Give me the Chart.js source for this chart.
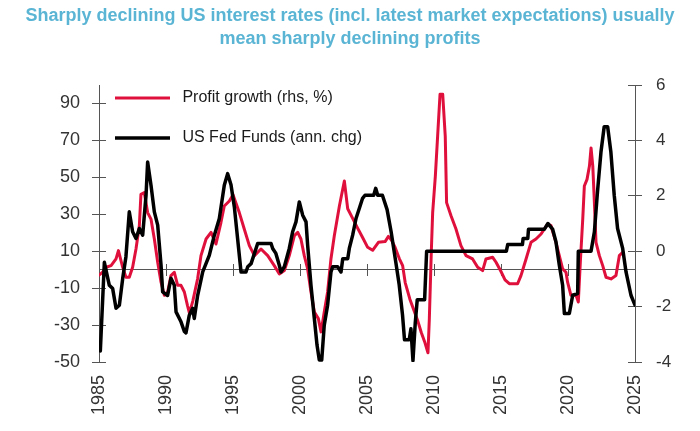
<!DOCTYPE html>
<html>
<head>
<meta charset="utf-8">
<script src="https://cdn.jsdelivr.net/npm/chart.js@4.4.1/dist/chart.umd.min.js"></script>
<style>
	html, body { margin: 0; padding: 0; background: #fff; }
</style>
</head>
<body>
<canvas id="myChart" width="700" height="431"></canvas>
<script>

// profit growth, % (drawn on the left scale)
var profitYears = [1985.0, 1985.27, 1985.52, 1985.9, 1986.27, 1986.45, 1986.77, 1987.01, 1987.26, 1987.51, 1987.76, 1988.01, 1988.13, 1988.38, 1988.63, 1988.88,
	1989.13, 1989.38, 1989.63, 1989.88, 1990.12, 1990.37, 1990.62, 1990.87, 1991.12, 1991.37, 1991.6, 1991.75, 1992.0, 1992.36, 1992.61, 1992.99,
	1993.36, 1993.73, 1994.1, 1994.35, 1994.73, 1995.0, 1995.47, 1995.84, 1996.22, 1996.6, 1997.09, 1997.59, 1998.08, 1998.46, 1998.83, 1999.2,
	1999.58, 1999.83, 2000.07, 2000.32, 2000.57, 2000.82, 2001.07, 2001.37, 2001.57, 2001.81, 2002.06, 2002.31, 2002.56, 2002.94, 2003.31, 2003.56,
	2003.93, 2004.3, 2004.7, 2005.05, 2005.42, 2005.85, 2006.35, 2006.6, 2006.85, 2007.1, 2007.41, 2007.66, 2007.85, 2008.2, 2008.5, 2008.8,
	2009.05, 2009.3, 2009.55, 2009.65, 2009.8, 2009.9, 2010.1, 2010.27, 2010.45, 2010.65, 2010.84, 2010.94, 2011.27, 2011.64, 2012.01, 2012.39,
	2012.88, 2013.26, 2013.63, 2013.88, 2014.38, 2014.63, 2015.0, 2015.3, 2015.62, 2016.24, 2016.49, 2016.87, 2017.24, 2017.61, 2017.99, 2018.48,
	2018.73, 2019.1, 2019.35, 2019.6, 2019.85, 2019.97, 2020.22, 2020.6, 2020.77, 2020.92, 2021.1, 2021.22, 2021.42, 2021.6, 2021.72, 2021.85,
	2021.97, 2022.09, 2022.34, 2022.59, 2022.84, 2023.21, 2023.58, 2023.83, 2024.08];
var profitGrowth = [-3, -1.4, 1.3, 2.2, 5.8, 10.3, 1.3, -4.1, -4.1, 1.3, 11.2, 23.8, 40.8, 41.7, 30.9, 27.4,
	16.6, 4.0, -6.8, -13.9, -12.2, -3.2, -1.4, -8.5, -8.5, -12.1, -19.3, -23.5, -17, -4.9, 7.6, 16.6,
	20.2, 13.9, 25.5, 34.5, 37.2, 40.5, 30.9, 22, 13, 7.6, 11.2, 7.6, 2.2, -2.3, -0.5, 7.6,
	18.4, 20.2, 16.6, 7.6, 0.4, -12.1, -22.9, -26.5, -33.7, -22.9, -12.1, 5.8, 18.4, 34.5, 48, 33,
	27.8, 22.5, 17, 12.1, 10.5, 14.8, 15.2, 18, 15.7, 12, 6, 2.2, -7, -16, -22, -28,
	-34, -39, -45, -27, 10, 30.9, 50.7, 72.2, 95, 95, 72.2, 36.3, 29.2, 22, 13, 7.6,
	5.8, 1.3, -0.5, 5.8, 6.7, 4, -1, -5.5, -7.6, -7.6, -3.2, 5.8, 14.8, 16.6, 19.3, 24.7,
	23.8, 14.8, 7.6, 0.4, -1.4, -6.8, -13.9, -13.9, -17.5, 4, 27.4, 45.3, 48.9, 56.1, 65.9, 56.1,
	36.3, 14.8, 7.6, 2.2, -4.1, -5, -3.2, 7.6, 9.4];

// US fed funds, annual change in pp (drawn on the right scale)
var fedYears = [1985.1, 1985.4, 1985.77, 1986.02, 1986.27, 1986.52, 1986.77, 1987.01, 1987.26, 1987.51, 1987.76, 1988.01, 1988.26, 1988.51, 1988.63, 1988.88,
	1989.13, 1989.38, 1989.63, 1989.75, 1990.12, 1990.37, 1990.62, 1990.75, 1991.12, 1991.37, 1991.49, 1991.74, 1991.99, 1992.11, 1992.36, 1992.74,
	1993.23, 1993.61, 1993.98, 1994.35, 1994.6, 1994.85, 1995.1, 1995.6, 1995.97, 1996.1, 1996.35, 1996.6, 1996.84, 1997.84, 1997.96, 1998.2,
	1998.45, 1998.58, 1998.83, 1999.2, 1999.45, 1999.7, 1999.95, 2000.2, 2000.45, 2000.57, 2000.82, 2001.07, 2001.27, 2001.44, 2001.62, 2001.81,
	2002.06, 2002.31, 2002.44, 2002.81, 2003.06, 2003.19, 2003.56, 2003.68, 2003.93, 2004.18, 2004.43, 2004.67, 2004.85, 2005.5, 2005.65, 2005.8,
	2006.15, 2006.5, 2006.8, 2007.15, 2007.4, 2007.65, 2007.8, 2008.15, 2008.28, 2008.43, 2008.6, 2008.75, 2009.3, 2009.45, 2015.4, 2015.5,
	2016.6, 2016.65, 2017.0, 2017.05, 2018.23, 2018.5, 2018.85, 2019.1, 2019.35, 2019.6, 2019.73, 2020.1, 2020.35, 2020.72, 2020.77, 2021.72,
	2021.97, 2022.2, 2022.46, 2022.7, 2022.96, 2023.2, 2023.45, 2023.7, 2024.08, 2024.33, 2024.7, 2025.0];
var fedChange = [-3.6, -0.4, -1.23, -1.35, -2.06, -1.95, -0.98, -0.2, 1.42, 0.7, 0.46, 0.82, 0.58, 2.02, 3.22, 2.38,
	1.42, 0.94, -0.5, -1.47, -1.6, -0.98, -1.23, -2.19, -2.55, -2.9, -2.95, -2.31, -2.06, -2.43, -1.6, -0.75,
	-0.15, 0.58, 1.18, 2.38, 2.8, 2.4, 1.6, -0.75, -0.75, -0.56, -0.45, -0.08, 0.28, 0.28, 0.1, -0.08,
	-0.5, -0.75, -0.56, 0.1, 0.7, 1.06, 1.78, 1.3, 1.06, 0.22, -1.23, -2.43, -3.39, -3.93, -3.93, -2.67,
	-1.95, -0.75, -0.56, -0.56, -0.75, -0.27, -0.27, 0.1, 0.58, 1.18, 1.55, 1.91, 2.02, 2.02, 2.27, 2.02,
	2.02, 1.5, 0.7, -0.4, -1.2, -2.3, -3.2, -3.2, -2.8, -3.95, -2.6, -1.75, -1.75, 0, 0, 0.24,
	0.24, 0.46, 0.46, 0.79, 0.79, 1.0, 0.8, 0.34, -0.5, -1.23, -2.25, -2.25, -1.59, -1.53, 0, 0,
	0.7, 2.14, 3.58, 4.49, 4.49, 3.58, 2.02, 0.82, 0.1, -0.75, -1.59, -1.95];

var yearTicks = [1985, 1990, 1995, 2000, 2005, 2010, 2015, 2020, 2025];
var leftTicks = [-50, -30, -10, 10, 30, 50, 70, 90];
var rightTicks = [-4, -2, 0, 2, 4, 6];

var titleLines = ['Sharply declining US interest rates (incl. latest market expectations) usually', 'mean sharply declining profits'];
var seriesNames = ['Profit growth (rhs, %)', 'US Fed Funds (ann. chg)'];

var FONT = "'Liberation Sans', Arial, sans-serif";
var AXIS = '#555555';

function toPoints(xs, ys){
	return xs.map(function(x, i){ return {x: x, y: ys[i]}; });
}

function fixTicks(list){
	return function(scale){
		scale.ticks = list.map(function(v){ return {value: v}; });
	};
}

// legend sits inside the plot, near its top left corner
var legendPlace = {
	id: 'legendPlace',
	afterLayout(chart){
		var a = chart.chartArea;
		chart.legend.left = a.left - 8;
		chart.legend.top = a.top - 19;
		chart.legend.right = a.right;
		chart.legend.bottom = a.bottom;
	}
};

const ctx = document.getElementById('myChart').getContext('2d');
const chart = new Chart(ctx, {
	type: 'line',
	data: {
		datasets: [{
			label: seriesNames[0],
			data: toPoints(profitYears, profitGrowth),
			borderColor: '#e0103c',
			borderWidth: 3,
			yAxisID: 'y',
			order: 1
		},{
			label: seriesNames[1],
			data: toPoints(fedYears, fedChange),
			borderColor: '#000000',
			borderWidth: 3.5,
			yAxisID: 'y2',
			order: 0
		}]
	},
	plugins: [legendPlace],
	options: {
		responsive: false,
		animation: false,
		devicePixelRatio: 1,
		elements: {
			point: { radius: 0 },
			line: { tension: 0, borderJoinStyle: 'round', borderCapStyle: 'round' }
		},
		layout: { padding: 0 },
		plugins: {
			tooltip: { enabled: false },
			title: {
				display: true,
				text: titleLines,
				color: '#5ab4d4',
				font: { family: FONT, size: 18, weight: 'bold', lineHeight: 1.25 },
				padding: { top: 5, bottom: 35 }
			},
			legend: {
				position: 'chartArea',
				align: 'start',
				fullSize: false,
				labels: {
					usePointStyle: true,
					pointStyle: 'line',
					pointStyleWidth: 55,
					boxHeight: 16,
					padding: 24,
					color: '#1a1a1a',
					font: { family: FONT, size: 16 },
					generateLabels: function(c){
						var items = Chart.defaults.plugins.legend.labels.generateLabels(c);
						items.forEach(function(it){ it.text = ' ' + it.text; });
						return items;
					},
					sort: function(a, b){ return a.datasetIndex - b.datasetIndex; }
				}
			}
		},
		scales: {
			x: {
				type: 'linear',
				position: 'bottom',
				min: 1985,
				max: 2025,
				afterBuildTicks: fixTicks(yearTicks),
				afterFit: function(s){ s.height = 69; },
				grid: { display: false, drawTicks: false },
				border: { display: false },
				ticks: {
					minRotation: 90,
					maxRotation: 90,
					padding: 13,
					color: '#333',
					font: { family: FONT, size: 18 },
					callback: function(v){ return String(v); }
				}
			},
			// the zero line with its year marks, both sides of it
			xZero: {
				type: 'linear',
				position: { y: 0 },
				min: 1985,
				max: 2025,
				afterBuildTicks: fixTicks(yearTicks),
				afterFit: function(s){ s.height = 0; },
				grid: { drawOnChartArea: false, tickLength: 6, color: AXIS },
				border: { display: true, color: AXIS, width: 1 },
				ticks: { display: false }
			},
			xZeroUp: {
				type: 'linear',
				position: { y: 0 },
				min: 1985,
				max: 2025,
				afterBuildTicks: fixTicks(yearTicks),
				afterFit: function(s){ s.height = 0; },
				grid: { drawOnChartArea: false, tickLength: -6, color: AXIS },
				border: { display: false },
				ticks: { display: false }
			},
			y: {
				position: 'left',
				min: -50,
				max: 100,
				afterBuildTicks: fixTicks(leftTicks),
				afterFit: function(s){ s.width = 99; },
				grid: { drawOnChartArea: false, tickLength: 7, color: AXIS },
				border: { color: AXIS, width: 1 },
				ticks: { padding: 12, color: '#333', font: { family: FONT, size: 18 } }
			},
			yIn: {
				position: 'left',
				weight: -1,
				min: -50,
				max: 100,
				afterBuildTicks: fixTicks(leftTicks),
				afterFit: function(s){ s.width = 0; },
				grid: { drawOnChartArea: false, tickLength: -7, color: AXIS },
				border: { display: false },
				ticks: { display: false }
			},
			y2: {
				position: 'right',
				min: -4,
				max: 6,
				afterBuildTicks: fixTicks(rightTicks),
				afterFit: function(s){ s.width = 65; },
				grid: { drawOnChartArea: false, tickLength: 7, color: AXIS },
				border: { color: AXIS, width: 1 },
				ticks: { padding: 14, color: '#333', font: { family: FONT, size: 17 } }
			},
			y2In: {
				position: 'right',
				weight: -1,
				min: -4,
				max: 6,
				afterBuildTicks: fixTicks(rightTicks),
				afterFit: function(s){ s.width = 0; },
				grid: { drawOnChartArea: false, tickLength: -7, color: AXIS },
				border: { display: false },
				ticks: { display: false }
			}
		}
	}
});

</script>
</body>
</html>
